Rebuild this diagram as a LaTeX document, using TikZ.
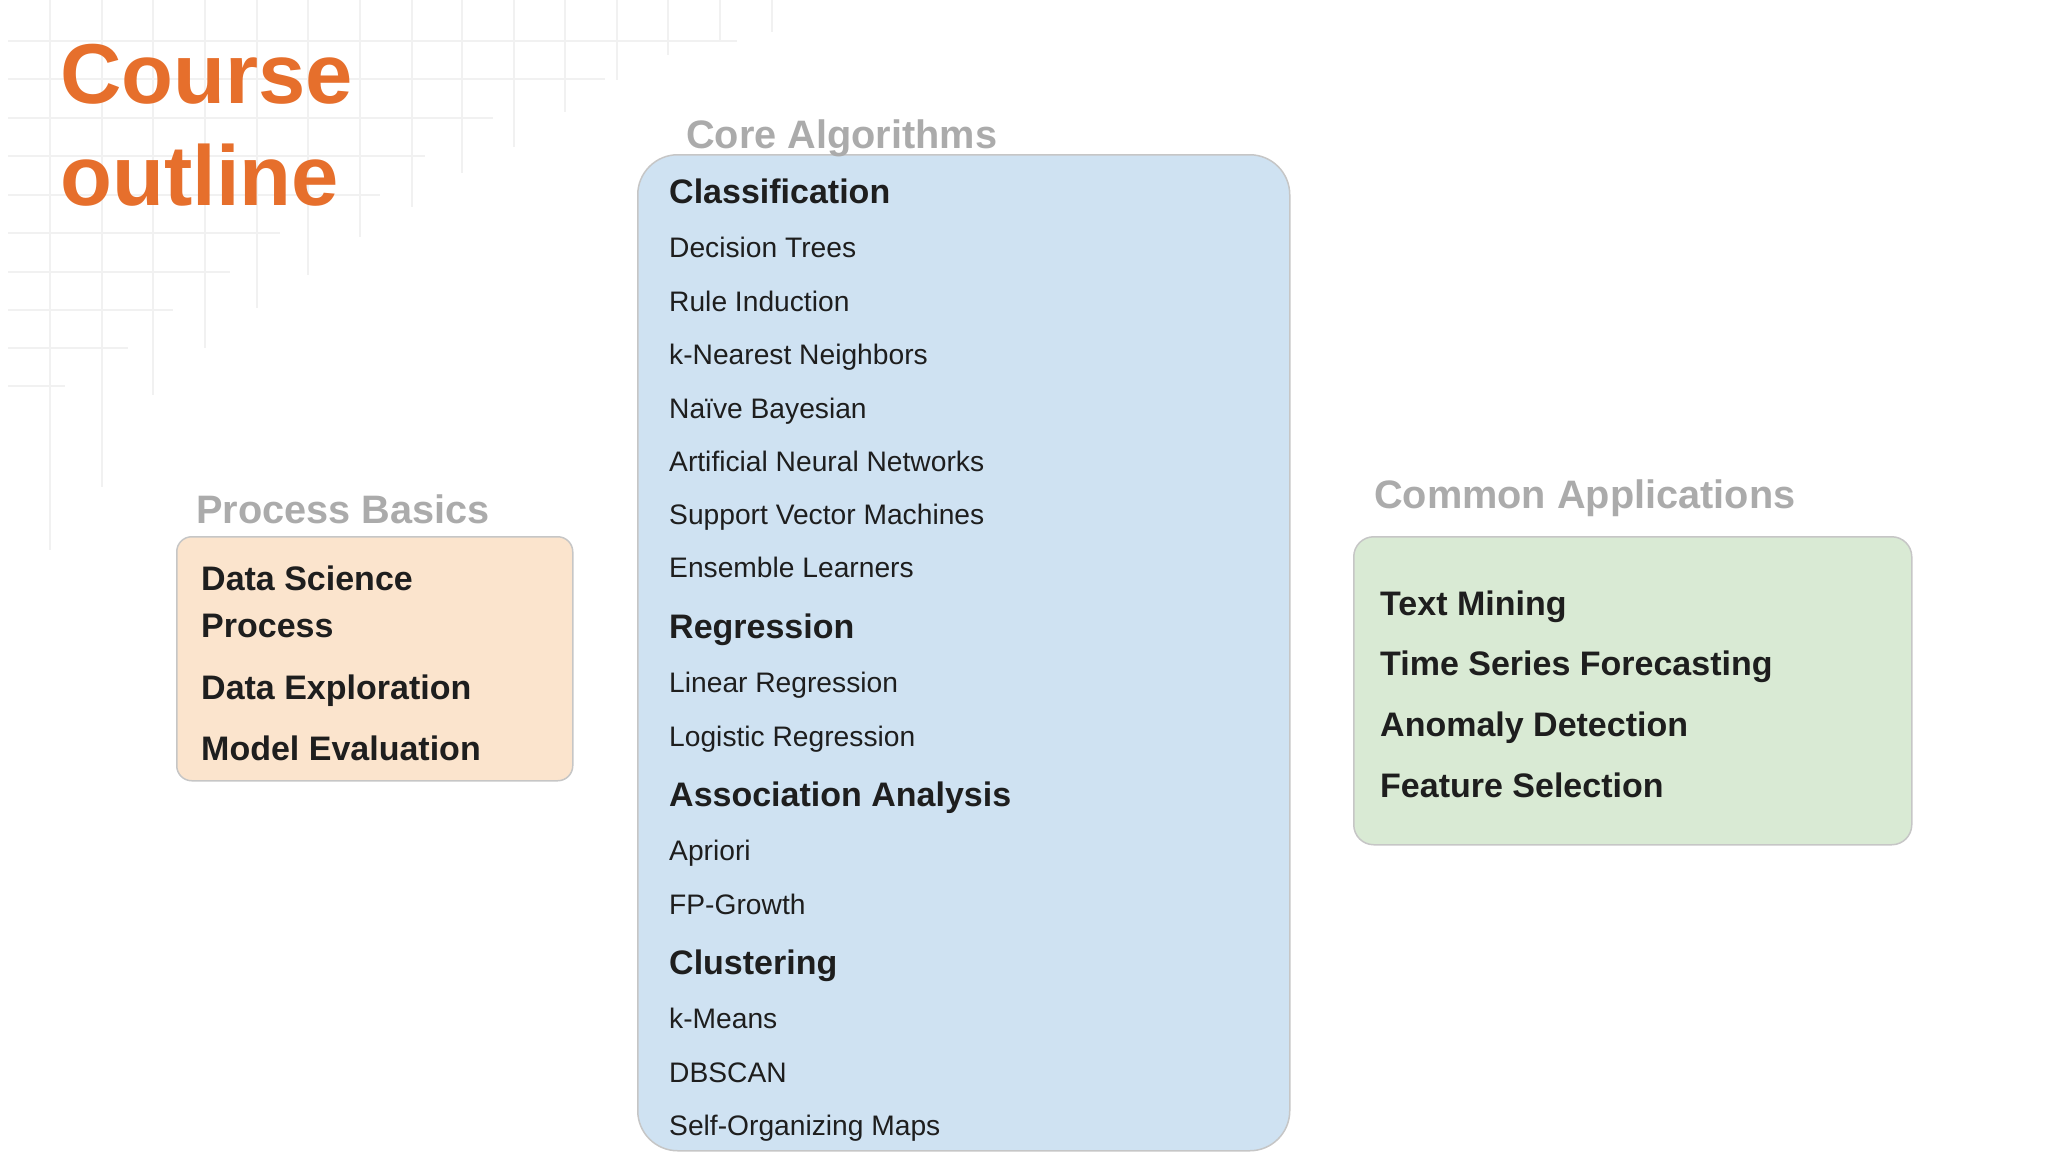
\documentclass[tikz,border=0pt]{standalone}
\usepackage{fontspec}
\setmainfont{Liberation Sans}
\definecolor{titleorange}{HTML}{E66F2C}
\definecolor{labelgray}{HTML}{ABABAB}
\definecolor{inkblack}{HTML}{1E1E1E}
\definecolor{gridgray}{HTML}{F1F1F1}
\definecolor{edgegray}{HTML}{C6C6C6}
\definecolor{peach}{HTML}{FBE4CD}
\definecolor{skyblue}{HTML}{CFE2F2}
\definecolor{mint}{HTML}{D9EAD4}
\tikzset{
  gridline/.style={gridgray, line width=2pt},
  panel/.style={draw=edgegray, line width=1.5pt, anchor=north west, inner sep=0pt},
  titletext/.style={anchor=base west, inner sep=0pt, text=titleorange,
    font=\fontsize{85}{85}\selectfont\bfseries},
  grouplabel/.style={anchor=base west, inner sep=0pt, text=labelgray,
    font=\fontsize{39.7}{40}\selectfont\bfseries},
  boxitem/.style={anchor=base west, inner sep=0pt, text=inkblack,
    font=\fontsize{34}{34}\selectfont\bfseries},
  algoitem/.style={anchor=base west, inner sep=0pt, text=inkblack,
    font=\fontsize{28.2}{28}\selectfont},
}
\begin{document}
\begin{tikzpicture}[x=1pt, y=-1pt]
        \useasboundingbox (0,0) rectangle (2048,1152);
        % background grid, top left
        \foreach \yy/\xe in {41/737, 79/605, 118/493, 156/425, 195/380, 233/280, 272/230, 310/173, 348/128, 386/65}
          \draw[gridline] (8,\yy) -- (\xe,\yy);
        \foreach \xx/\ye in {50/550, 102/487, 153/395, 205/348, 257/308, 308/275, 360/237, 412/207, 462/173, 514/147, 565/112, 617/80, 668/55, 720/40, 772/32}
          \draw[gridline] (\xx,0) -- (\xx,\ye);
        % title
        \node[titletext] (T0_0) at (60,103) {Course};
        \node[titletext] (T1_0) at (60,205) {outline};
        % panels
        \node[panel, fill=peach, rounded corners=15pt, minimum width=396pt, minimum height=244pt] (B0) at (176,536) {};
        \node[panel, fill=skyblue, rounded corners=40pt, minimum width=652pt, minimum height=996pt] (B1) at (637,154) {};
        \node[panel, fill=mint, rounded corners=20pt, minimum width=558pt, minimum height=308pt] (B2) at (1353,536) {};
        % panel labels
        \node[grouplabel] (L0) at (196,523) {Process Basics};
        \node[grouplabel] (L1) at (686,148) {Core Algorithms};
        \node[grouplabel] (L2) at (1374,508) {Common Applications};
        % process basics
        \node[boxitem] (P0_0) at (201,590) {Data Science};
        \node[boxitem] (P0_1) at (201,637) {Process};
        \node[boxitem] (P1_0) at (201,699) {Data Exploration};
        \node[boxitem] (P2_0) at (201,760) {Model Evaluation};
        % core algorithms
        \node[boxitem] (A0_0) at (669,203) {Classification};
        \node[algoitem] (A0_1) at (669,257) {Decision Trees};
        \node[algoitem] (A0_2) at (669,311) {Rule Induction};
        \node[algoitem] (A0_3) at (669,364) {k-Nearest Neighbors};
        \node[algoitem] (A0_4) at (669,418) {Naïve Bayesian};
        \node[algoitem] (A0_5) at (669,471) {Artificial Neural Networks};
        \node[algoitem] (A0_6) at (669,524) {Support Vector Machines};
        \node[algoitem] (A0_7) at (669,577) {Ensemble Learners};
        \node[boxitem] (A1_0) at (669,638) {Regression};
        \node[algoitem] (A1_1) at (669,692) {Linear Regression};
        \node[algoitem] (A1_2) at (669,746) {Logistic Regression};
        \node[boxitem] (A2_0) at (669,806) {Association Analysis};
        \node[algoitem] (A2_1) at (669,860) {Apriori};
        \node[algoitem] (A2_2) at (669,914) {FP-Growth};
        \node[boxitem] (A3_0) at (669,974) {Clustering};
        \node[algoitem] (A3_1) at (669,1028) {k-Means};
        \node[algoitem] (A3_2) at (669,1082) {DBSCAN};
        \node[algoitem] (A3_3) at (669,1135) {Self-Organizing Maps};
        % common applications
        \node[boxitem] (C0_0) at (1380,615) {Text Mining};
        \node[boxitem] (C1_0) at (1380,675) {Time Series Forecasting};
        \node[boxitem] (C2_0) at (1380,736) {Anomaly Detection};
        \node[boxitem] (C3_0) at (1380,797) {Feature Selection};
      \end{tikzpicture}
\end{document}
